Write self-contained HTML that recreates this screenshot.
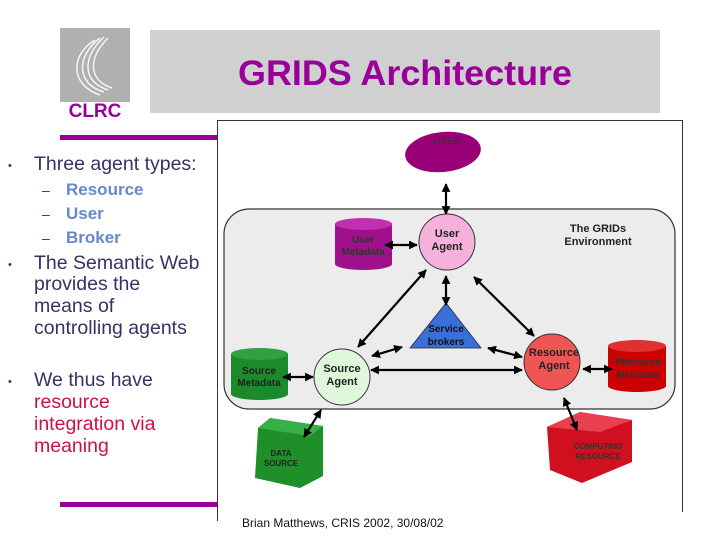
<!DOCTYPE html>
<html><head><meta charset="utf-8"><style>
body{margin:0;width:720px;height:540px;background:#fff;overflow:hidden;font-family:"Liberation Sans",sans-serif}
</style></head><body>
<svg width="720" height="540" viewBox="0 0 720 540" xmlns="http://www.w3.org/2000/svg" font-family="Liberation Sans, sans-serif">
<defs>
<marker id="e" viewBox="0 0 10 10" refX="9" refY="5" markerWidth="4" markerHeight="4" orient="auto"><path d="M0,0L10,5L0,10z" fill="#000"/></marker>
<marker id="s" viewBox="0 0 10 10" refX="1" refY="5" markerWidth="4" markerHeight="4" orient="auto"><path d="M10,0L0,5L10,10z" fill="#000"/></marker>
</defs>
<!-- logo -->
<rect x="60" y="28" width="70" height="74" fill="#b0b0b0"/>
<g fill="none" stroke="#fff" stroke-width="1.5" opacity="0.9">
<path d="M95,40 C70,55 70,85 100,95"/><path d="M100,38 C76,56 76,84 104,92"/><path d="M104,37 C82,57 82,82 108,90"/><path d="M108,38 C88,58 88,80 112,88"/>
</g>
<text x="95" y="117" text-anchor="middle" font-size="19" font-weight="bold" fill="#990099">CLRC</text>
<rect x="150" y="30" width="510" height="83" fill="#d0d0d0"/>
<text x="238" y="85" font-size="35" font-weight="bold" fill="#990099" textLength="334" lengthAdjust="spacingAndGlyphs">GRIDS Architecture</text>
<rect x="60" y="135" width="158" height="5" fill="#990099"/>
<rect x="60" y="502" width="158" height="5" fill="#990099"/>
<!-- left text -->
<g font-size="19.5" fill="#333366">
<text x="8" y="169" font-size="11">•</text><text x="34" y="170">Three agent types:</text>
<text x="42" y="195" font-size="14">–</text><text x="42" y="219" font-size="14">–</text><text x="42" y="243" font-size="14">–</text>
<g fill="#6688cc" font-size="17" font-weight="bold"><text x="66" y="195">Resource</text><text x="66" y="219">User</text><text x="66" y="243">Broker</text></g>
<text x="8" y="268" font-size="11">•</text><text x="34" y="269">The Semantic Web</text>
<text x="34" y="290">provides the</text><text x="34" y="312">means of</text><text x="34" y="334">controlling agents</text>
<text x="8" y="385" font-size="11">•</text><text x="34" y="386">We thus have</text>
<g fill="#cc1144"><text x="34" y="408">resource</text><text x="34" y="430">integration via</text><text x="34" y="452">meaning</text></g>
</g>
<!-- diagram frame -->
<rect x="217.5" y="120.5" width="465" height="400" fill="#fff" stroke="#333" stroke-width="1"/>
<rect x="224" y="209" width="451" height="200" rx="25" fill="#ececec" stroke="#333" stroke-width="1.2"/>
<text x="598" y="232" text-anchor="middle" font-size="11" font-weight="bold" fill="#222">The GRIDs</text>
<text x="598" y="245" text-anchor="middle" font-size="11" font-weight="bold" fill="#222">Environment</text>
<!-- USER -->
<ellipse cx="443" cy="152" rx="38" ry="20" fill="#990077" transform="rotate(-6 443 152)"/>
<text x="447" y="144" text-anchor="middle" font-size="10" fill="#333">USER</text>
<!-- User Agent -->
<circle cx="447" cy="242" r="28" fill="#f6b0dc" stroke="#333" stroke-width="1"/>
<text x="447" y="237" text-anchor="middle" font-size="11" font-weight="bold" fill="#222">User</text>
<text x="447" y="250" text-anchor="middle" font-size="11" font-weight="bold" fill="#222">Agent</text>
<!-- User Metadata -->
<path d="M335,224 V264 A28.5,6 0 0 0 392,264 V224" fill="#a0108a"/>
<ellipse cx="363.5" cy="224" rx="28.5" ry="6" fill="#c030b0"/>
<text x="363" y="243" text-anchor="middle" font-size="10" font-weight="bold" fill="#333">User</text>
<text x="363" y="255" text-anchor="middle" font-size="10" font-weight="bold" fill="#333">Metadata</text>
<!-- Service brokers -->
<path d="M446,303 L481,348 L410,348Z" fill="#3a6fd8" stroke="#224" stroke-width="0.8"/>
<text x="446" y="332" text-anchor="middle" font-size="10" font-weight="bold" fill="#111">Service</text>
<text x="446" y="345" text-anchor="middle" font-size="10" font-weight="bold" fill="#111">brokers</text>
<!-- Source Agent -->
<circle cx="342" cy="377" r="28" fill="#dff8dc" stroke="#333" stroke-width="1"/>
<text x="342" y="372" text-anchor="middle" font-size="11" font-weight="bold" fill="#222">Source</text>
<text x="342" y="385" text-anchor="middle" font-size="11" font-weight="bold" fill="#222">Agent</text>
<!-- Source Metadata -->
<path d="M231,354 V394 A28.5,6 0 0 0 288,394 V354" fill="#1a8a2a"/>
<ellipse cx="259.5" cy="354" rx="28.5" ry="6" fill="#30a040"/>
<text x="259" y="374" text-anchor="middle" font-size="10" font-weight="bold" fill="#222">Source</text>
<text x="259" y="386" text-anchor="middle" font-size="10" font-weight="bold" fill="#222">Metadata</text>
<!-- Resource Agent -->
<circle cx="552" cy="362" r="28" fill="#f05555" stroke="#333" stroke-width="1"/>
<text x="554" y="356" text-anchor="middle" font-size="11" font-weight="bold" fill="#222">Resource</text>
<text x="554" y="369" text-anchor="middle" font-size="11" font-weight="bold" fill="#222">Agent</text>
<!-- Resource Metadata -->
<path d="M608,346 V386 A29,6 0 0 0 666,386 V346" fill="#cc0000"/>
<ellipse cx="637" cy="346" rx="29" ry="6" fill="#e03030"/>
<text x="638" y="365" text-anchor="middle" font-size="10" font-weight="bold" fill="#333">Resource</text>
<text x="638" y="378" text-anchor="middle" font-size="10" font-weight="bold" fill="#333">Metadata</text>
<!-- DATA SOURCE -->
<path d="M258,428 L270,418 L323,426 L323,476 L300,488 L255,478 Z" fill="#1f8f2a"/>
<path d="M258,428 L270,418 L323,426 L310,436 Z" fill="#38b048"/>
<text x="281" y="456" text-anchor="middle" font-size="8" font-weight="bold" fill="#222">DATA</text>
<text x="281" y="466" text-anchor="middle" font-size="8" font-weight="bold" fill="#222">SOURCE</text>
<!-- COMPUTING RESOURCE -->
<path d="M547,427 L580,412 L632,420 L632,462 L582,483 L550,470 Z" fill="#d0101e"/>
<path d="M547,427 L580,412 L632,420 L600,432 Z" fill="#e84050"/>
<text x="598" y="449" text-anchor="middle" font-size="8" font-weight="bold" fill="#333">COMPUTING</text>
<text x="598" y="459" text-anchor="middle" font-size="8" font-weight="bold" fill="#333">RESOURCE</text>
<!-- arrows -->
<g stroke="#000" stroke-width="2.2" marker-start="url(#s)" marker-end="url(#e)">
<line x1="446" y1="184" x2="446" y2="214"/>
<line x1="385" y1="245" x2="417" y2="245"/>
<line x1="446" y1="276" x2="446" y2="305"/>
<line x1="426" y1="270" x2="358" y2="347"/>
<line x1="474" y1="277" x2="534" y2="336"/>
<line x1="372" y1="356" x2="402" y2="347"/>
<line x1="488" y1="348" x2="522" y2="357"/>
<line x1="371" y1="370" x2="522" y2="370"/>
<line x1="283" y1="377" x2="313" y2="377"/>
<line x1="583" y1="369" x2="612" y2="369"/>
<line x1="321" y1="410" x2="304" y2="437"/>
<line x1="564" y1="398" x2="577" y2="430"/>
</g>
<!-- footer -->
<rect x="218" y="512" width="470" height="28" fill="#fff"/>
<text x="242" y="527" font-size="12" fill="#111">Brian Matthews, CRIS 2002, 30/08/02</text>
</svg>
</body></html>
